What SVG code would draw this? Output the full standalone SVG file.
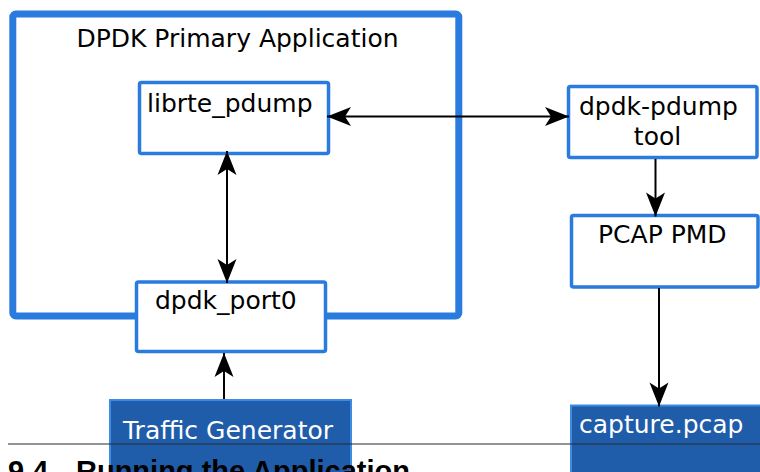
<svg xmlns="http://www.w3.org/2000/svg" width="760" height="472" viewBox="0 0 760 472">
<style>
.box{fill:#ffffff;stroke:#2a7bde;stroke-width:3.5}
.dark{fill:#1f5ca9;stroke:#3d8be2;stroke-width:2}
.lbl{font-family:"DejaVu Sans",sans-serif;font-size:25px;fill:#000}
.wlbl{font-family:"DejaVu Sans",sans-serif;font-size:25px;fill:#ffffff}
.conn{stroke:#000;stroke-width:2;fill:none}
</style>
<defs>
<marker id="arr" markerUnits="userSpaceOnUse" markerWidth="30" markerHeight="24" viewBox="-26 -12 28 24" refX="0" refY="0" orient="auto-start-reverse">
<path d="M0,0 L-24,-9.5 L-18,0 L-24,9.5 Z" fill="#000"/>
</marker>
</defs>
<rect width="760" height="472" fill="#ffffff"/>
<g id="app">
<rect x="12.8" y="14" width="446" height="302" rx="3" fill="#ffffff" stroke="#2a7bde" stroke-width="7"/>
<text class="lbl" x="237.5" y="47" text-anchor="middle">DPDK Primary Application</text>
</g>
<g id="librte_pdump">
<rect class="box" x="139.5" y="82.5" width="189" height="71" rx="2"/>
<text class="lbl" x="147" y="112">librte_pdump</text>
</g>
<g id="dpdk_port0">
<rect class="box" x="136.5" y="282" width="189" height="69.5" rx="2"/>
<text class="lbl" x="155" y="309">dpdk_port0</text>
</g>
<g id="pdump_tool">
<rect class="box" x="568.5" y="86.5" width="188.5" height="71" rx="2"/>
<text class="lbl" x="579" y="115">dpdk-pdump</text>
<text class="lbl" x="657.5" y="145" text-anchor="middle">tool</text>
</g>
<g id="pcap_pmd">
<rect class="box" x="571.5" y="215.5" width="186.5" height="71.5" rx="2"/>
<text class="lbl" x="598" y="243">PCAP PMD</text>
</g>
<g id="traffic_gen">
<rect class="dark" x="110" y="400" width="241" height="90"/>
<text class="wlbl" x="123" y="439">Traffic Generator</text>
</g>
<g id="capture">
<rect class="dark" x="571" y="405.5" width="200" height="90"/>
<text class="wlbl" x="579" y="433">capture.pcap</text>
</g>
<g id="connectors">
<line class="conn" x1="327" y1="116.5" x2="569" y2="116.5" marker-start="url(#arr)" marker-end="url(#arr)"/>
<line class="conn" x1="227" y1="151" x2="227" y2="283" marker-start="url(#arr)" marker-end="url(#arr)"/>
<line class="conn" x1="224" y1="399" x2="224" y2="353" marker-end="url(#arr)"/>
<line class="conn" x1="655.5" y1="159" x2="655.5" y2="216.5" marker-end="url(#arr)"/>
<line class="conn" x1="659" y1="288" x2="659" y2="406.5" marker-end="url(#arr)"/>
</g>
<g id="page">
<line x1="8" y1="444" x2="760" y2="444" stroke="#2b2b2b" stroke-width="1.2"/>
<text x="8" y="481" font-family="Liberation Sans, Arial, sans-serif" font-weight="bold" font-size="29" fill="#000">9.4.<tspan x="76">Running the Application</tspan></text>
</g>
</svg>
